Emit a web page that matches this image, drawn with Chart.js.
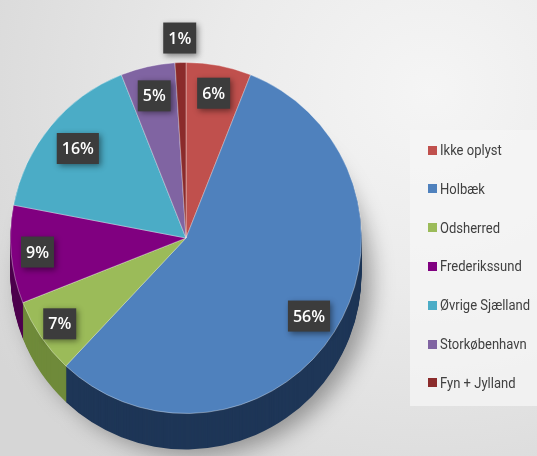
<!DOCTYPE html>
<html>
<head>
<meta charset="utf-8">
<script src="https://cdn.jsdelivr.net/npm/chart.js@4.4.1/dist/chart.umd.min.js"></script>
<style>
  html, body { margin: 0; padding: 0; }
  body {
    width: 537px; height: 456px; overflow: hidden; position: relative;
    background: radial-gradient(ellipse 520px 480px at 80% 20%, #f5f5f5 0%, #ebebeb 40%, #d6d6d6 100%);
  }
  #wrap { position: absolute; left: 0; top: 0; width: 537px; height: 456px; }
  #legend {
    position: absolute; left: 410px; top: 130px; width: 127px; height: 276px;
    background: rgba(245, 245, 245, 0.75);
  }
  #legend ul { list-style: none; margin: 0; padding: 0; }
  #legend li {
    position: absolute; left: 18px; height: 20px; display: flex; align-items: center;
    font-family: "Roboto", sans-serif; font-size: 15.5px; color: #404040;
    white-space: nowrap;
  }
  #legend li span.box { width: 9px; height: 9px; margin-right: 3px; display: inline-block; }
  #legend li span.txt { display: inline-block; transform: scaleX(0.84); transform-origin: left center; }
</style>
</head>
<body>
<div id="wrap"><canvas id="pieChart" width="537" height="456"></canvas></div>
<div id="legend"></div>
<script>
const labels = ["Ikke oplyst", "Holbæk", "Odsherred", "Frederikssund", "Øvrige Sjælland", "Storkøbenhavn", "Fyn + Jylland"];
const shares = [6, 56, 7, 9, 16, 5, 1];

const colors = ["#c0504d", "#4f81bd", "#9bbb59", "#800080", "#4bacc6", "#8064a2", "#8b2b2b"];
const sideColors = ["#7e2f2d", "#1e3657", "#6f8a3a", "#4e004e", "#2d7487", "#4f3d66", "#5a1a1a"];
const labelRadius = [0.84, 0.83, 0.87, 0.85, 0.8, 0.83, 1.14];
const depth = 36;

// extruded side under the pie
const sidePlugin = {
  id: "side",
  beforeDatasetsDraw(chart) {
    const ctx = chart.ctx;
    const arcs = chart.getDatasetMeta(0).data;
    ctx.save();
    for (let d = depth; d >= 1; d--) {
      arcs.forEach((arc, i) => {
        const { x, y, startAngle, endAngle, outerRadius } = arc.getProps(["x", "y", "startAngle", "endAngle", "outerRadius"], true);
        ctx.beginPath();
        ctx.moveTo(x, y + d);
        ctx.arc(x, y + d, outerRadius, startAngle, endAngle);
        ctx.closePath();
        if (d === depth) {
          ctx.shadowColor = "rgba(0,0,0,0.35)";
          ctx.shadowBlur = 22;
          ctx.shadowOffsetX = 10;
          ctx.shadowOffsetY = 6;
        } else {
          ctx.shadowColor = "transparent";
          ctx.shadowBlur = 0;
        }
        ctx.fillStyle = sideColors[i];
        ctx.fill();
      });
    }
    ctx.restore();
  }
};

// dark percent boxes
const boxLabelPlugin = {
  id: "boxLabels",
  afterDatasetsDraw(chart) {
    const ctx = chart.ctx;
    const arcs = chart.getDatasetMeta(0).data;
    const values = chart.data.datasets[0].data;
    ctx.save();
    ctx.font = "600 16px 'Open Sans', sans-serif";
    ctx.textAlign = "center";
    ctx.textBaseline = "middle";
    arcs.forEach((arc, i) => {
      const { x, y, startAngle, endAngle, outerRadius } = arc.getProps(["x", "y", "startAngle", "endAngle", "outerRadius"], true);
      const mid = (startAngle + endAngle) / 2;
      const r = outerRadius * labelRadius[i];
      const cx = x + Math.cos(mid) * r;
      const cy = y + Math.sin(mid) * r;
      const txt = values[i] + "%";
      const w = ctx.measureText(txt).width + 10;
      const h = 31;
      ctx.shadowColor = "rgba(0,0,0,0.45)";
      ctx.shadowBlur = 6;
      ctx.shadowOffsetX = 2;
      ctx.shadowOffsetY = 2;
      ctx.fillStyle = "#3c3c3c";
      ctx.fillRect(cx - w / 2, cy - h / 2, w, h);
      ctx.shadowColor = "transparent";
      ctx.fillStyle = "#ffffff";
      ctx.fillText(txt, cx, cy + 1);
    });
    ctx.restore();
  }
};

const htmlLegendPlugin = {
  id: "htmlLegend",
  afterUpdate(chart) {
    const container = document.getElementById("legend");
    container.innerHTML = "";
    const ul = document.createElement("ul");
    chart.options.plugins.legend.labels.generateLabels(chart).forEach((item, i) => {
      const li = document.createElement("li");
      li.style.top = (10 + i * 38.8) + "px";
      const box = document.createElement("span");
      box.className = "box";
      box.style.background = item.fillStyle;
      const txt = document.createElement("span");
      txt.className = "txt";
      txt.textContent = item.text;
      li.appendChild(box);
      li.appendChild(txt);
      ul.appendChild(li);
    });
    container.appendChild(ul);
  }
};

const ctx = document.getElementById("pieChart").getContext("2d");
new Chart(ctx, {
  type: "pie",
  data: {
    labels: labels,
    datasets: [{
      data: shares,
      backgroundColor: colors,
      borderColor: "rgba(255,255,255,0.35)",
      borderWidth: 1
    }]
  },
  options: {
    responsive: false,
    animation: false,
    rotation: 0,
    layout: { padding: { left: 10, right: 175, top: 62, bottom: 42 } },
    plugins: {
      legend: { display: false },
      tooltip: { enabled: false }
    }
  },
  plugins: [sidePlugin, boxLabelPlugin, htmlLegendPlugin]
});
</script>
</body>
</html>
